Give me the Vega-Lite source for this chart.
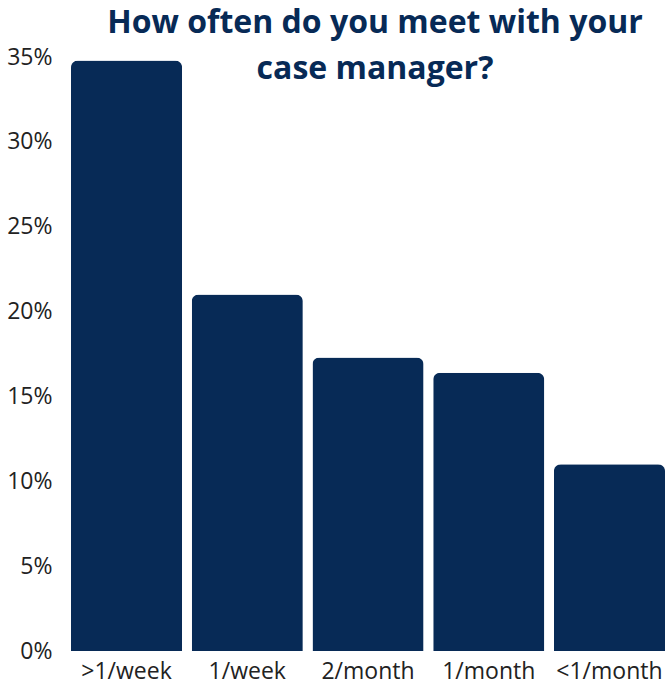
{
  "$schema": "https://vega.github.io/schema/vega-lite/v6.json",
  "autosize": {"type": "none"},
  "width": 594,
  "height": 594,
  "padding": {"left": 71, "top": 57, "right": 0, "bottom": 36},
  "background": "white",
  "title": {
    "text": ["How often do you meet with your", "case manager?"],
    "font": "Open Sans",
    "fontSize": 32,
    "fontWeight": "bold",
    "color": "#072a56",
    "anchor": "middle",
    "frame": "group",
    "orient": "top",
    "baseline": "alphabetic",
    "offset": 0,
    "dy": 65,
    "dx": 7,
    "lineHeight": 46
  },
  "data": {
    "values": [
      {"freq": ">1/week", "pct": 0.348},
      {"freq": "1/week", "pct": 0.21},
      {"freq": "2/month", "pct": 0.173},
      {"freq": "1/month", "pct": 0.164},
      {"freq": "<1/month", "pct": 0.11}
    ]
  },
  "mark": {"type": "bar", "color": "#072a56", "cornerRadiusTopLeft": 7, "cornerRadiusTopRight": 7},
  "encoding": {
    "x": {
      "field": "freq",
      "type": "nominal",
      "sort": null,
      "scale": {"paddingInner": 0.08, "paddingOuter": 0},
      "axis": {
        "title": null,
        "labelAngle": 0,
        "labelFont": "Open Sans",
        "labelFontSize": 23,
        "labelColor": "#222222",
        "labelPadding": 9,
        "ticks": false,
        "domain": false
      }
    },
    "y": {
      "field": "pct",
      "type": "quantitative",
      "scale": {"domain": [0, 0.35], "nice": false},
      "axis": {
        "title": null,
        "format": ".0%",
        "values": [0, 0.05, 0.1, 0.15, 0.2, 0.25, 0.3, 0.35],
        "labelFont": "Open Sans",
        "labelFontSize": 23,
        "labelColor": "#222222",
        "labelPadding": 19,
        "ticks": false,
        "domain": false,
        "grid": false
      }
    }
  },
  "config": {"view": {"stroke": null}}
}
